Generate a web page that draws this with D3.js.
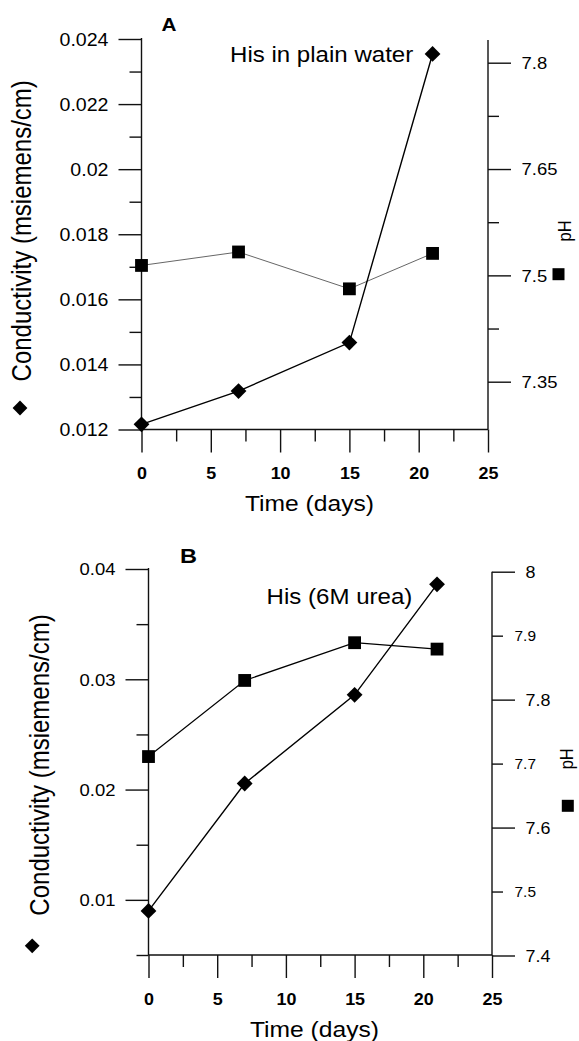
<!DOCTYPE html>
<html>
<head>
<meta charset="utf-8">
<script src="https://cdn.jsdelivr.net/npm/d3@7"></script>
<style>
  html, body { margin: 0; padding: 0; background: #fff; }
  svg { display: block; font-family: "Liberation Sans", Arial, sans-serif; }
</style>
</head>
<body>
<svg id="fig" width="579" height="1041"></svg>
<script>
// ---- data ----
const days = [0, 7, 15, 21];

// Panel A: His in plain water
const condA = [0.01216, 0.01318, 0.01467, 0.02354];
const phA = [7.514, 7.533, 7.481, 7.531];

// Panel B: His (6M urea)
const condB = [0.0090, 0.02055, 0.02859, 0.03861];
const phB = [7.711, 7.830, 7.889, 7.879];

// ---- ticks ----
const xMajor = [0, 5, 10, 15, 20, 25];
const xMinor = [2.5, 7.5, 12.5, 17.5, 22.5];

const condMajorA = [0.012, 0.014, 0.016, 0.018, 0.02, 0.022, 0.024];
const condMinorA = [0.013, 0.015, 0.017, 0.019, 0.021, 0.023];
const phMajorA = [7.35, 7.5, 7.65, 7.8];
const phMinorA = [7.425, 7.575, 7.725];

const condMajorB = [0.01, 0.02, 0.03, 0.04];
const condMinorB = [0.005, 0.015, 0.025, 0.035];
const phMajorB = [7.4, 7.6, 7.8, 8];
const phMinorB = [7.5, 7.7, 7.9];

const titles = ["His in plain water", "His (6M urea)"];
const letters = ["A", "B"];
const xTitle = "Time (days)";
const yTitleLeft = "Conductivity (msiemens/cm)";
const yTitleRight = "pH";

// ---- drawing ----
const SX = 1.12;            // glyphs are slightly wide in this figure
const MAJ = 23, MIN = 12;   // tick lengths
const svg = d3.select("#fig");
svg.append("rect").attr("width", 579).attr("height", 1041).attr("fill", "#fff");

const fmt = d => String(+d.toFixed(3));

function text(g, x, y, str, o = {}) {
  return g.append("text")
    .attr("transform", `translate(${x},${y}) scale(${SX},1)` + (o.rotate ? ` rotate(${o.rotate})` : ""))
    .attr("text-anchor", o.anchor || "start")
    .attr("font-size", o.size || 16)
    .attr("font-weight", o.weight || "normal")
    .attr("fill", "#000")
    .text(str);
}

function styleTickLabels(sel, dx, dy, size, weight, anchor) {
  sel.selectAll(".tick text")
    .attr("x", 0).attr("y", 0).attr("dy", dy)
    .attr("transform", `translate(${dx},0) scale(${SX},1)`)
    .attr("font-size", size)
    .attr("font-weight", weight)
    .attr("text-anchor", anchor)
    .attr("fill", "#000");
}

function cleanAxis(sel) {
  sel.attr("font-family", null).attr("font-size", null);
  sel.select(".domain").remove();
  sel.selectAll(".tick line").attr("stroke", "#111").attr("stroke-width", 1.4);
}

function drawPanel(p) {
  const g = svg.append("g");
  const x = d3.scaleLinear().domain([0, 25]).range([p.x0, p.x1]);
  const yL = d3.scaleLinear().domain(p.leftDom).range(p.leftRng);
  const yR = d3.scaleLinear().domain(p.rightDom).range(p.rightRng);

  // spines
  const addLine = (x1, y1, x2, y2) =>
    g.append("line").attr("x1", x1).attr("y1", y1).attr("x2", x2).attr("y2", y2)
      .attr("stroke", "#111").attr("stroke-width", 1.4);
  addLine(p.x0, p.leftTop, p.x0, p.axisY);
  addLine(p.x1, p.rightTop, p.x1, p.axisY);
  addLine(p.x0, p.axisY, p.x1, p.axisY);

  // x axis
  const gx = g.append("g").attr("transform", `translate(0,${p.axisY})`)
    .call(d3.axisBottom(x).tickValues(xMajor).tickSize(MAJ).tickFormat(d3.format("d")));
  cleanAxis(gx);
  gx.selectAll(".tick text")
    .attr("x", 0).attr("y", 0).attr("dy", 0)
    .attr("transform", `translate(0,49.5) scale(${SX},1)`)
    .attr("font-size", 16).attr("font-weight", "bold")
    .attr("text-anchor", "middle").attr("fill", "#000");
  const gxm = g.append("g").attr("transform", `translate(0,${p.axisY})`)
    .call(d3.axisBottom(x).tickValues(xMinor).tickSize(MIN).tickFormat(""));
  cleanAxis(gxm);

  // left axis
  const gl = g.append("g").attr("transform", `translate(${p.x0},0)`)
    .call(d3.axisLeft(yL).tickValues(p.condMajor).tickSize(MAJ).tickFormat(fmt));
  cleanAxis(gl);
  styleTickLabels(gl, -33, "0.35em", p.leftSize, "normal", "end");
  const glm = g.append("g").attr("transform", `translate(${p.x0},0)`)
    .call(d3.axisLeft(yL).tickValues(p.condMinor).tickSize(MIN).tickFormat(""));
  cleanAxis(glm);

  // right axis
  const gr = g.append("g").attr("transform", `translate(${p.x1},0)`)
    .call(d3.axisRight(yR).tickValues(p.phMajor).tickSize(MAJ).tickFormat(fmt));
  cleanAxis(gr);
  styleTickLabels(gr, 33.5, "0.35em", p.rightSize, "normal", "start");
  const grm = g.append("g").attr("transform", `translate(${p.x1},0)`)
    .call(d3.axisRight(yR).tickValues(p.phMinor).tickSize(MIN - 1)
      .tickFormat(p.minorLabels ? fmt : ""));
  cleanAxis(grm);
  if (p.minorLabels) styleTickLabels(grm, 22.5, "0.35em", 13.8, "normal", "start");

  // series lines
  const condPts = days.map((d, i) => [x(d), yL(p.cond[i])]);
  const phPts = days.map((d, i) => [x(d), yR(p.ph[i])]);
  const line = d3.line();
  g.append("path").attr("d", line(phPts)).attr("fill", "none")
    .attr("stroke", p.phLine).attr("stroke-width", p.phLineW);
  g.append("path").attr("d", line(condPts)).attr("fill", "none")
    .attr("stroke", "#000").attr("stroke-width", 1.4);

  // markers
  const diamond = d3.symbol().type(d3.symbolSquare).size(2 * 7.9 * 7.9);
  g.selectAll(".sq").data(phPts).join("rect")
    .attr("x", d => d[0] - 6.4).attr("y", d => d[1] - 6.4)
    .attr("width", 12.8).attr("height", 12.8).attr("fill", "#000");
  g.selectAll(".dm").data(condPts).join("path")
    .attr("d", diamond)
    .attr("transform", d => `translate(${d[0]},${d[1]}) rotate(45)`)
    .attr("fill", "#000");

  // legend markers beside axis titles
  g.append("path").attr("d", d3.symbol().type(d3.symbolSquare).size(2 * 7.4 * 7.4))
    .attr("transform", `translate(${p.legDiamond[0]},${p.legDiamond[1]}) rotate(45)`)
    .attr("fill", "#000");
  g.append("rect").attr("x", p.legSquare[0] - 6).attr("y", p.legSquare[1] - 6)
    .attr("width", 12).attr("height", 12).attr("fill", "#000");

  // texts
  text(g, p.letterPos[0], p.letterPos[1], p.letter, { size: p.letterSize, weight: "bold" });
  text(g, p.titlePos[0], p.titlePos[1], p.title, { size: 21.5 });
  text(g, p.xTitlePos[0], p.xTitlePos[1], xTitle, { size: 22, anchor: "middle" });
  text(g, p.yLeftPos[0], p.yLeftPos[1], yTitleLeft, { size: 24, anchor: "middle", rotate: -90 });
  text(g, p.yRightPos[0], p.yRightPos[1], yTitleRight, { size: p.phSize, anchor: "middle", rotate: -90 });
}

drawPanel({
  x0: 141.5, x1: 488, axisY: 429.5, leftTop: 38, rightTop: 40,
  leftDom: [0.012, 0.024], leftRng: [429.5, 39],
  rightDom: [7.35, 7.8], rightRng: [381.7, 62.7],
  condMajor: condMajorA, condMinor: condMinorA, leftSize: 17.5,
  phMajor: phMajorA, phMinor: phMinorA, minorLabels: false, rightSize: 16.5,
  cond: condA, ph: phA, phLine: "#555", phLineW: 0.9,
  legDiamond: [20, 408], legSquare: [558.5, 274.2],
  letter: letters[0], letterPos: [161.5, 30.7], letterSize: 18.5,
  title: titles[0], titlePos: [230, 61.7],
  xTitlePos: [309.5, 511], yLeftPos: [31, 230.8], yRightPos: [571, 231], phSize: 16.5
});

drawPanel({
  x0: 148.5, x1: 492, axisY: 955, leftTop: 568, rightTop: 571.7,
  leftDom: [0.005, 0.04], leftRng: [955, 569],
  rightDom: [7.4, 8], rightRng: [955.5, 571.7],
  condMajor: condMajorB, condMinor: condMinorB, leftSize: 16.5,
  phMajor: phMajorB, phMinor: phMinorB, minorLabels: true, rightSize: 16,
  cond: condB, ph: phB, phLine: "#000", phLineW: 1.2,
  legDiamond: [32.2, 945.8], legSquare: [567.8, 805.8],
  letter: letters[1], letterPos: [180, 563.3], letterSize: 21,
  title: titles[1], titlePos: [266.6, 604],
  xTitlePos: [314.5, 1036.7], yLeftPos: [48.5, 765], yRightPos: [572.5, 758.8], phSize: 16.5
});
</script>
</body>
</html>
